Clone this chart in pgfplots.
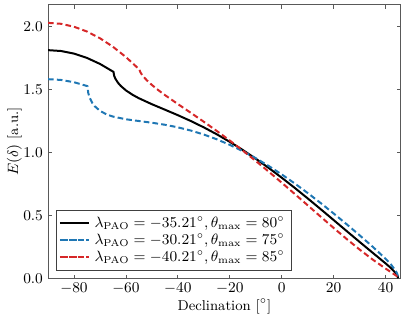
\documentclass[border=0pt]{standalone}
\usepackage{pgfplots}
\pgfplotsset{compat=1.18}
\definecolor{mblue}{RGB}{31,119,180}
\definecolor{mred}{RGB}{214,39,40}
\begin{document}
\fontsize{8.6}{10.3}\selectfont
\begin{tikzpicture}
\begin{axis}[
  name=main,
  scale only axis,
  width=212.3pt, height=164.5pt,
  xmin=-90, xmax=45.8, ymin=0, ymax=2.17,
  xtick={-80,-60,-40,-20,0,20,40},
  ytick={0,0.5,1,1.5,2},
  yticklabel style={/pgf/number format/.cd,fixed,fixed zerofill,precision=1},
  tick align=inside, tick pos=both,
  major tick length=2.2pt,
  every tick/.style={black!65, line width=0.5pt},
  axis line style={black!65, line width=0.6pt},
  xlabel={Declination [$^\circ$]},
  ylabel={$E(\delta)$ [a.u.]},
  xlabel style={at={(axis description cs:0.5,0)}, anchor=center, yshift=-16.9pt},
  ylabel style={at={(axis description cs:0,0.5)}, anchor=center, rotate=0, yshift=20.2pt},
  legend style={at={(axis description cs:0,0)}, anchor=south west, xshift=4.8pt, yshift=4.6pt,
    draw=black!75, line width=0.6pt, fill=white, inner xsep=1.5pt, inner ysep=2.5pt,
    row sep=0pt, nodes={inner ysep=1.15pt, inner xsep=2.5pt}},
  legend cell align=left,
  legend image code/.code={\path (-1.4pt,0pt) -- (16.3pt,0pt); \draw[#1, line width=1.2pt] (0pt,0pt) -- (13.2pt,0pt);},
]
\addplot[black, line width=1.2pt] coordinates {
(-90,1.8114) (-85,1.8045) (-80,1.7839) (-75,1.7496) (-70,1.7021) (-64.79,1.6389)
(-64.5,1.6062) (-64,1.5826) (-63,1.5510) (-62,1.5276) (-60,1.4917) (-57.5,1.4574)
(-55,1.4294) (-50,1.3820) (-45,1.3387) (-40,1.2949) (-35,1.2484) (-30,1.1980)
(-25,1.1430) (-20,1.0832) (-15,1.0186) (-10,0.9494) (-5,0.8758) (0,0.7984)
(5,0.7176) (10,0.6341) (15,0.5486) (20,0.4619) (25,0.3748) (30,0.2882)
(35,0.2027) (40,0.1177) (42,0.0820) (44,0.0393) (44.5,0.0232) (44.7,0.0128) (44.79,0)
};
\addlegendentry{$\lambda_{\mathrm{PAO}} = -35.21^\circ, \theta_{\mathrm{max}} = 80^\circ$}
\addplot[mblue, line width=1.2pt, dash pattern=on 3.4pt off 1.9pt] coordinates {
(-90,1.5808) (-85,1.5748) (-80,1.5567) (-74.79,1.5254) (-74.5,1.4706) (-74,1.4355)
(-73,1.3936) (-72,1.3659) (-70,1.3294) (-67.5,1.3016) (-65,1.2839) (-60,1.2625)
(-55,1.2485) (-50,1.2350) (-45,1.2189) (-40,1.1985) (-35,1.1728) (-30,1.1411)
(-25,1.1033) (-20,1.0593) (-15,1.0092) (-10,0.9531) (-5,0.8915) (0,0.8245)
(5,0.7528) (10,0.6768) (15,0.5971) (20,0.5142) (25,0.4288) (30,0.3410)
(35,0.2506) (40,0.1546) (42,0.1112) (44,0.0555) (44.5,0.0330) (44.7,0.0183) (44.79,0)
};
\addlegendentry{$\lambda_{\mathrm{PAO}} = -30.21^\circ, \theta_{\mathrm{max}} = 75^\circ$}
\addplot[mred, line width=1.2pt, dash pattern=on 3.4pt off 1.9pt] coordinates {
(-90,2.0282) (-85,2.0205) (-80,1.9973) (-75,1.9591) (-70,1.9059) (-65,1.8382)
(-60,1.7565) (-54.79,1.6571) (-54.5,1.6385) (-54,1.6215) (-53,1.5952) (-52,1.5731)
(-50,1.5349) (-47.5,1.4931) (-45,1.4549) (-40,1.3832) (-35,1.3134) (-30,1.2426)
(-25,1.1694) (-20,1.0933) (-15,1.0139) (-10,0.9315) (-5,0.8463) (0,0.7587)
(5,0.6694) (10,0.5792) (15,0.4888) (20,0.3993) (25,0.3118) (30,0.2278)
(35,0.1488) (40,0.0765) (42,0.0496) (44,0.0216) (44.5,0.0123) (44.7,0.0067) (44.79,0)
};
\addlegendentry{$\lambda_{\mathrm{PAO}} = -40.21^\circ, \theta_{\mathrm{max}} = 85^\circ$}
\end{axis}
\pgfresetboundingbox
\useasboundingbox ([xshift=-28.9pt,yshift=-26.9pt]main.south west) rectangle ([xshift=3.8pt,yshift=3pt]main.north east);
\end{tikzpicture}
\end{document}
